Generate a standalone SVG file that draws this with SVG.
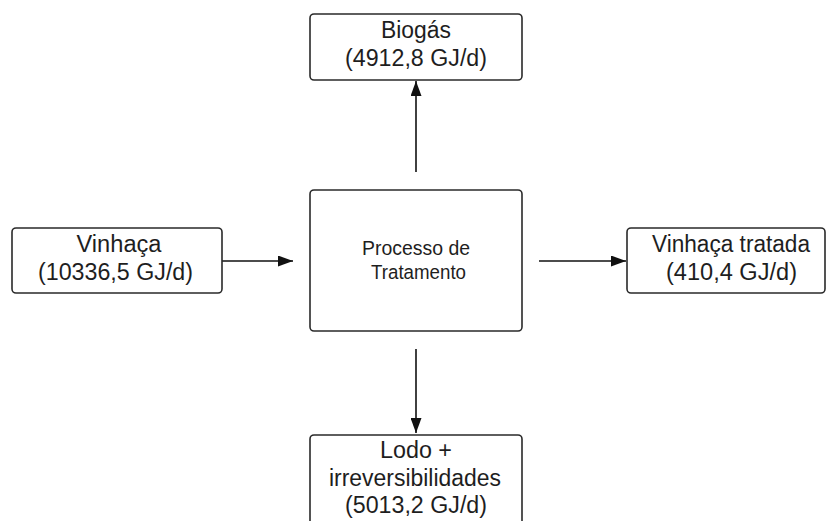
<svg xmlns="http://www.w3.org/2000/svg" width="827" height="521" viewBox="0 0 827 521">
  <style>
    .box { fill: #ffffff; stroke: #2a2a2a; stroke-width: 1.6; }
    .lbl { font-family: "Liberation Sans", Arial, sans-serif; font-size: 23px; fill: #1e1e1e; }
    .small { font-size: 20.5px; }
    .conn { stroke: #111111; stroke-width: 1.6; fill: none; marker-end: url(#arrow); }
  </style>
  <defs>
    <marker id="arrow" markerUnits="userSpaceOnUse" markerWidth="15" markerHeight="11" refX="15" refY="5.5" orient="auto">
      <path d="M0,0 L15,5.5 L0,11 z" fill="#111111"/>
    </marker>
  </defs>
  <rect width="827" height="521" fill="#ffffff"/>

  <g id="connectors">
    <line class="conn" x1="416" y1="172" x2="416" y2="81"/>
    <line class="conn" x1="222" y1="261" x2="293" y2="261"/>
    <line class="conn" x1="539" y1="261" x2="626" y2="261"/>
    <line class="conn" x1="416" y1="349" x2="416" y2="433"/>
  </g>

  <g id="biogas">
    <rect class="box" x="310" y="14" width="212" height="66" rx="4"/>
    <text class="lbl" x="381" y="38" textLength="70" lengthAdjust="spacingAndGlyphs">Biogás</text>
    <text class="lbl" x="345" y="66" textLength="142" lengthAdjust="spacingAndGlyphs">(4912,8 GJ/d)</text>
  </g>

  <g id="vinhaca">
    <rect class="box" x="12" y="228" width="210" height="65" rx="4"/>
    <text class="lbl" x="76.5" y="252" textLength="85" lengthAdjust="spacingAndGlyphs">Vinhaça</text>
    <text class="lbl" x="38" y="280" textLength="155" lengthAdjust="spacingAndGlyphs">(10336,5 GJ/d)</text>
  </g>

  <g id="processo">
    <rect class="box" x="310" y="190" width="212" height="141" rx="4"/>
    <text class="lbl small" x="362" y="255" textLength="108" lengthAdjust="spacingAndGlyphs">Processo de</text>
    <text class="lbl small" x="371" y="279" textLength="95" lengthAdjust="spacingAndGlyphs">Tratamento</text>
  </g>

  <g id="vinhaca-tratada">
    <rect class="box" x="627" y="228" width="198" height="65" rx="4"/>
    <text class="lbl" x="652" y="252" textLength="158" lengthAdjust="spacingAndGlyphs">Vinhaça tratada</text>
    <text class="lbl" x="666" y="280" textLength="131" lengthAdjust="spacingAndGlyphs">(410,4 GJ/d)</text>
  </g>

  <g id="lodo">
    <rect class="box" x="310" y="435" width="212" height="100" rx="4"/>
    <text class="lbl" x="380" y="458" textLength="72" lengthAdjust="spacingAndGlyphs">Lodo +</text>
    <text class="lbl" x="329" y="486" textLength="172" lengthAdjust="spacingAndGlyphs">irreversibilidades</text>
    <text class="lbl" x="345" y="513" textLength="142" lengthAdjust="spacingAndGlyphs">(5013,2 GJ/d)</text>
  </g>
</svg>
